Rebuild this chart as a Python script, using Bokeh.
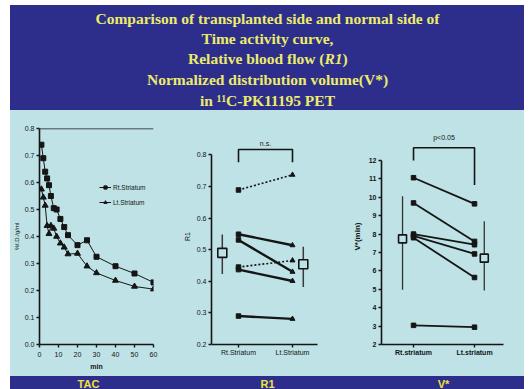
from bokeh.plotting import figure
from bokeh.layouts import column, row
from bokeh.models import Range1d, ColumnDataSource, Label, Span, FixedTicker
from bokeh.embed import file_html
from bokeh.resources import INLINE

# ---------------- data ----------------
title_lines = [
    "Comparison of transplanted side and normal side of",
    "Time activity curve,",
    "Relative blood flow (R1)",
    "Normalized distribution volume(V*)",
    "in \u00b9\u00b9C-PK11195 PET",
]
title_line3_parts = ["Relative blood flow (", "R1", ")"]
footer_labels = ["TAC", "R1", "V*"]

tac_time = [1, 2, 3, 4, 5, 6, 7.5, 9, 11, 13, 15, 20, 25, 30, 40, 50, 60]
tac_rt = [0.74, 0.69, 0.64, 0.615, 0.59, 0.55, 0.505, 0.50, 0.465, 0.435,
          0.405, 0.368, 0.386, 0.325, 0.29, 0.263, 0.23]
tac_lt = [0.575, 0.545, 0.515, 0.44, 0.41, 0.44, 0.43, 0.40, 0.375, 0.36,
          0.335, 0.337, 0.29, 0.265, 0.237, 0.215, 0.205]
tac_series = ["Rt.Striatum", "Lt.Striatum"]
tac_yticks = [0.0, 0.1, 0.2, 0.3, 0.4, 0.5, 0.6, 0.7, 0.8]
tac_xticks = [0, 10, 20, 30, 40, 50, 60]

r1_categories = ["Rt.Striatum", "Lt.Striatum"]
r1_rt = [0.689, 0.549, 0.531, 0.445, 0.437, 0.290]
r1_lt = [0.737, 0.514, 0.430, 0.466, 0.401, 0.281]
r1_dotted = [True, False, False, True, False, False]
r1_mean = [0.490, 0.454]
r1_low = [0.423, 0.382]
r1_high = [0.548, 0.509]
r1_yticks = [0.2, 0.3, 0.4, 0.5, 0.6, 0.7, 0.8]
r1_sig = "n.s."

vd_categories = ["Rt.striatum", "Lt.striatum"]
vd_rt = [11.06, 9.69, 8.0, 7.9, 7.8, 3.04]
vd_lt = [9.64, 7.60, 7.42, 6.92, 5.64, 2.94]
vd_mean = [7.74, 6.69]
vd_low = [4.98, 4.94]
vd_high = [10.05, 8.69]
vd_yticks = [2, 3, 4, 5, 6, 7, 8, 9, 10, 11, 12]
vd_sig = "p<0.05"

# ---------------- styles ----------------
BLUE = "#2d2e8c"
YELLOW = "#ecec6a"
FOOT_YELLOW = "#f0e23c"
PANEL = "#bee2e5"
INK = "#151515"
NARROW = "Liberation Sans Narrow, Liberation Sans"
TITLE_SIZE = "15.5px"

W = 514
HEAD_H, MID_H, FOOT_H = 105, 266, 13


def blank(w, h, bg):
    p = figure(width=w, height=h, x_range=Range1d(0, w), y_range=Range1d(0, h),
               output_backend="svg", toolbar_location=None, min_border=0,
               x_axis_location=None, y_axis_location=None,
               background_fill_color=bg, border_fill_color=bg,
               outline_line_color=None)
    p.grid.visible = False
    return p


def style_axes(p, font_size="7px", bold=False):
    for ax in (p.xaxis[0], p.yaxis[0]):
        ax.axis_line_color = INK
        ax.axis_line_width = 1.6
        ax.major_tick_line_color = INK
        ax.major_tick_line_width = 1.4
        ax.major_tick_out = 3
        ax.major_tick_in = 0
        ax.minor_tick_line_color = None
        ax.major_label_text_font = NARROW
        ax.major_label_text_font_size = font_size
        ax.major_label_text_color = INK
        ax.major_label_text_font_style = "bold" if bold else "normal"
        ax.axis_label_text_font = NARROW
        ax.axis_label_text_font_size = font_size
        ax.axis_label_text_font_style = "bold" if bold else "normal"
        ax.axis_label_text_color = INK
    p.grid.visible = False


def panel(w, left, right, top, bottom, xr, yr):
    p = figure(width=w, height=MID_H, x_range=xr, y_range=yr,
               output_backend="svg", toolbar_location=None,
               min_border_left=left, min_border_right=right,
               min_border_top=top, min_border_bottom=bottom,
               background_fill_color=PANEL, border_fill_color=PANEL,
               outline_line_color=None)
    return p


# ---------------- header ----------------
head = blank(W, HEAD_H, BLUE)
cx = 257
line_y = [92, 72, 52, 31, 10]
for i, txt in enumerate(title_lines):
    if i == 2:
        continue
    head.add_layout(Label(x=cx, y=line_y[i], text=txt, text_align="center",
                          text_baseline="middle", text_font="Liberation Serif",
                          text_font_style="bold", text_font_size=TITLE_SIZE,
                          text_color=YELLOW))
x_split = cx - 79 + 136
head.add_layout(Label(x=x_split, y=line_y[2], text=title_line3_parts[0], text_align="right",
                      text_baseline="middle", text_font="Liberation Serif",
                      text_font_style="bold", text_font_size=TITLE_SIZE, text_color=YELLOW))
head.add_layout(Label(x=x_split, y=line_y[2], text=title_line3_parts[1], text_align="left",
                      text_baseline="middle", text_font="Liberation Serif",
                      text_font_style="bold italic", text_font_size=TITLE_SIZE, text_color=YELLOW))
head.add_layout(Label(x=x_split + 18, y=line_y[2], text=title_line3_parts[2], text_align="left",
                      text_baseline="middle", text_font="Liberation Serif",
                      text_font_style="bold", text_font_size=TITLE_SIZE, text_color=YELLOW))

# ---------------- TAC ----------------
p1 = panel(162, 25, 19, 18, 32, Range1d(0, 60), Range1d(0, 0.8))
p1.line(tac_time, tac_rt, color=INK, line_width=1, legend_label=tac_series[0])
p1.scatter(tac_time, tac_rt, marker="square", size=5, color=INK, legend_label=tac_series[0])
p1.line(tac_time, tac_lt, color=INK, line_width=1, legend_label=tac_series[1])
p1.scatter(tac_time, tac_lt, marker="triangle", size=6, color=INK, legend_label=tac_series[1])
style_axes(p1)
p1.xaxis.ticker = FixedTicker(ticks=tac_xticks)
p1.yaxis.ticker = FixedTicker(ticks=tac_yticks)
p1.yaxis.major_label_overrides = {t: f"{t:.1f}" for t in tac_yticks}
p1.xaxis.axis_label = "min"
p1.xaxis.axis_label_text_font_style = "bold"
p1.xaxis.major_label_standoff = 4
p1.xaxis.axis_label_standoff = 3
p1.yaxis.axis_label = "%I.D./g/ml"
p1.yaxis.axis_label_text_font_size = "6px"
p1.yaxis.major_label_standoff = 2
p1.yaxis.axis_label_standoff = 2
p1.add_layout(Span(location=tac_yticks[-1], dimension="width", line_color=INK, line_width=1.5))
lg = p1.legend[0]
lg.location = (60, 138)
lg.background_fill_alpha = 0
lg.border_line_color = None
lg.label_text_font = NARROW
lg.label_text_font_size = "6.5px"
lg.label_text_color = INK
lg.glyph_width = 12
lg.glyph_height = 8
lg.label_height = 8
lg.spacing = 7
lg.padding = 0
lg.margin = 0
lg.label_standoff = 2

# ---------------- R1 ----------------
r1_pos = list(range(len(r1_categories)))
p2 = panel(175, 39, 30, 0, 29, Range1d(-0.5, 1.463), Range1d(0.2, 0.8836))
solid = ColumnDataSource(dict(
    x0=[r1_pos[0]] * sum(not d for d in r1_dotted),
    x1=[r1_pos[1]] * sum(not d for d in r1_dotted),
    y0=[a for a, d in zip(r1_rt, r1_dotted) if not d],
    y1=[b for b, d in zip(r1_lt, r1_dotted) if not d]))
dotted = ColumnDataSource(dict(
    x0=[r1_pos[0]] * sum(r1_dotted),
    x1=[r1_pos[1]] * sum(r1_dotted),
    y0=[a for a, d in zip(r1_rt, r1_dotted) if d],
    y1=[b for b, d in zip(r1_lt, r1_dotted) if d]))
p2.segment("x0", "y0", "x1", "y1", source=solid, line_color=INK, line_width=2.4)
p2.segment("x0", "y0", "x1", "y1", source=dotted, line_color=INK, line_width=1.6, line_dash="2 2")
p2.scatter([r1_pos[0]] * len(r1_rt), r1_rt, marker="square", size=4.5, color=INK)
p2.scatter([r1_pos[1]] * len(r1_lt), r1_lt, marker="triangle", size=5, color=INK)
r1_mx = [r1_pos[0] - 0.3, r1_pos[1] + 0.2]
p2.segment(r1_mx, r1_low, r1_mx, r1_high, line_color="#3a3a3a", line_width=1.5)
p2.scatter(r1_mx, r1_mean, marker="square", size=9, fill_color=PANEL,
           line_color=INK, line_width=1.6)
p2.line([r1_pos[0], r1_pos[0], r1_pos[1], r1_pos[1]], [0.777, 0.817, 0.817, 0.777],
        line_color=INK, line_width=1.6)
p2.add_layout(Label(x=0.5, y=0.824, text=r1_sig, text_align="center", text_baseline="bottom",
                    text_font=NARROW, text_font_size="7px", text_color=INK))
style_axes(p2)
p2.xaxis.ticker = FixedTicker(ticks=r1_pos)
p2.xaxis.major_label_overrides = {i: c for i, c in zip(r1_pos, r1_categories)}
p2.xaxis.major_label_standoff = 1
p2.yaxis.ticker = FixedTicker(ticks=r1_yticks)
p2.yaxis.major_label_overrides = {t: f"{t:.1f}" for t in r1_yticks}
p2.yaxis.bounds = (r1_yticks[0], r1_yticks[-1])
p2.yaxis.axis_label = "R1"
p2.yaxis.major_label_standoff = 2
p2.yaxis.axis_label_standoff = 3

# ---------------- V* ----------------
vd_pos = list(range(len(vd_categories)))
p3 = panel(177, 34, 21, 0, 29, Range1d(-0.525, 1.475), Range1d(2, 13.733))
p3.segment([vd_pos[0]] * len(vd_rt), vd_rt, [vd_pos[1]] * len(vd_lt), vd_lt,
           line_color=INK, line_width=1.8)
p3.scatter([vd_pos[0]] * len(vd_rt), vd_rt, marker="square", size=4.5, color=INK)
p3.scatter([vd_pos[1]] * len(vd_lt), vd_lt, marker="square", size=4.5, color=INK)
vd_mx = [vd_pos[0] - 0.18, vd_pos[1] + 0.16]
p3.segment(vd_mx, vd_low, vd_mx, vd_high, line_color="#333333", line_width=1.3)
p3.scatter(vd_mx, vd_mean, marker="square", size=8, fill_color=PANEL,
           line_color=INK, line_width=1.6)
p3.line([vd_pos[0], vd_pos[0], vd_pos[1], vd_pos[1]], [12.0, 12.69, 12.69, 10.66],
        line_color=INK, line_width=1.6)
p3.add_layout(Label(x=0.5, y=13.24, text=vd_sig, text_align="center", text_baseline="middle",
                    text_font=NARROW, text_font_size="7px", text_color=INK))
style_axes(p3, bold=True)
p3.xaxis.ticker = FixedTicker(ticks=vd_pos)
p3.xaxis.major_label_overrides = {i: c for i, c in zip(vd_pos, vd_categories)}
p3.xaxis.major_label_standoff = 1
p3.yaxis.ticker = FixedTicker(ticks=vd_yticks)
p3.yaxis.bounds = (vd_yticks[0], vd_yticks[-1])
p3.yaxis.axis_label = "V*(min)"
p3.yaxis.axis_label_text_font_size = "8px"
p3.yaxis.major_label_standoff = 2
p3.yaxis.axis_label_standoff = 4

# ---------------- footer ----------------
foot = blank(W, FOOT_H, BLUE)
foot_x = [78, 257, 433]
for fx, txt in zip(foot_x, footer_labels):
    foot.add_layout(Label(x=fx, y=6, text=txt, text_align="center", text_baseline="middle",
                          text_font="Liberation Sans", text_font_style="bold",
                          text_font_size="11px", text_color=FOOT_YELLOW))

mid = row(p1, p2, p3, spacing=0, styles={"background-color": PANEL})
layout = column(head, mid, foot, spacing=0, margin=(5, 0, 0, 10),
                styles={"background-color": BLUE})
open("out.html", "w").write(file_html(layout, INLINE))
